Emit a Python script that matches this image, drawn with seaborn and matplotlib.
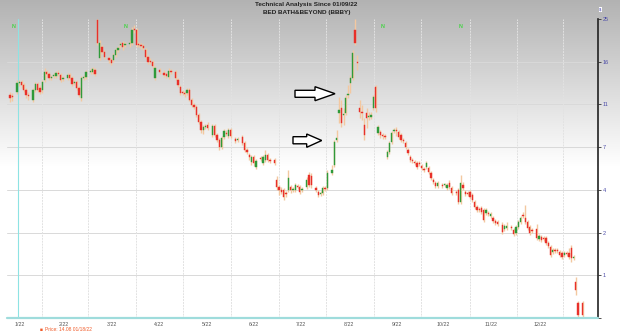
import numpy as np
import pandas as pd
import matplotlib
matplotlib.use("Agg")
import matplotlib.pyplot as plt
from matplotlib.patches import Polygon
import seaborn as sns

# ---------------- data ----------------
sessions = [0, 1, 3, 4, 5, 6, 7, 8, 10, 11, 12, 13, 14, 15, 16, 17, 18, 19, 20, 21,
            22, 23, 25, 26, 27, 28, 29, 30, 31, 32, 33, 35, 36, 37, 38, 39, 40, 41, 43, 44,
            45, 46, 47, 48, 49, 50, 52, 53, 54, 55, 56, 57, 58, 59, 60, 61, 62, 63, 65, 67,
            68, 69, 70, 72, 73, 74, 75, 76, 77, 78, 79, 80, 81, 82, 83, 84, 85, 86, 88, 89,
            90, 91, 92, 93, 94, 95, 96, 98, 99, 101, 102, 103, 104, 105, 106, 107, 109, 110, 111, 112,
            113, 115, 116, 117, 118, 119, 120, 121, 122, 123, 124, 125, 126, 127, 129, 130, 131, 133, 134, 135,
            136, 137, 138, 140, 141, 142, 143, 144, 145, 146, 147, 148, 149, 150, 151, 152, 153, 154, 155, 156,
            157, 158, 159, 160, 161, 162, 163, 164, 165, 166, 167, 168, 169, 170, 171, 172, 173, 174, 175, 176,
            177, 178, 179, 180, 181, 182, 183, 184, 185, 186, 188, 189, 190, 191, 192, 194, 195, 196, 197, 198,
            199, 200, 201, 202, 203, 204, 205, 206, 207, 208, 209, 210, 211, 212, 214, 215, 216, 218, 219, 220,
            221, 222, 223, 224, 225, 226, 227, 229, 230, 231, 232, 233, 234, 235, 236, 237, 238, 239, 240, 241,
            242, 243, 244, 245, 246, 247, 249]

opens = [12.11, 12.00, 12.46, 13.52, 13.63, 13.28, 12.70, 12.11, 11.53, 12.70, 13.40, 12.93, 12.70, 13.87, 14.81, 14.57, 14.10, 14.34, 14.34, 14.69,
         14.45, 13.99, 14.10, 14.45, 14.10, 13.52, 13.63, 12.93, 11.76, 14.10, 14.22, 14.81, 14.81, 15.04, 24.80, 16.80, 19.12, 18.07, 16.80, 16.38,
         16.38, 17.43, 18.49, 19.54, 19.96, 19.54, 19.75, 19.96, 22.91, 22.70, 19.75, 19.54, 19.33, 18.49, 17.01, 16.17, 15.97, 14.10, 15.04, 14.69,
         14.57, 14.22, 14.92, 14.81, 13.87, 13.05, 12.46, 12.35, 12.35, 12.70, 11.53, 10.95, 10.77, 10.02, 9.36, 8.61, 8.89, 9.08, 8.14, 8.99,
         8.14, 7.67, 7.02, 7.96, 8.33, 8.05, 8.61, 7.77, 7.67, 7.96, 7.39, 6.80, 6.45, 5.96, 6.31, 5.61, 6.24, 5.89, 6.10, 6.45,
         6.10, 6.10, 4.70, 4.20, 4.00, 4.00, 3.85, 4.00, 4.20, 4.00, 4.00, 4.27, 4.20, 4.00, 4.20, 5.05, 4.98, 4.13, 3.90, 3.81,
         3.85, 4.13, 4.13, 5.19, 5.75, 7.67, 10.20, 10.67, 10.02, 10.20, 12.11, 13.52, 14.10, 22.70, 15.97, 10.67, 10.30, 9.08, 10.20, 9.83,
         9.83, 10.67, 13.05, 8.33, 8.42, 8.14, 8.05, 6.31, 6.66, 7.49, 8.52, 8.61, 8.42, 8.14, 7.67, 7.39, 6.80, 6.31, 6.10, 5.96,
         5.89, 5.89, 5.68, 5.47, 5.61, 5.54, 5.19, 4.70, 4.48, 4.27, 4.34, 4.34, 4.13, 4.48, 4.13, 3.90, 4.00, 3.43, 4.34, 3.90,
         3.85, 3.90, 3.76, 3.43, 3.20, 3.11, 3.15, 3.06, 2.92, 2.92, 2.78, 2.68, 2.54, 2.50, 2.36, 2.17, 2.22, 2.27, 2.12, 1.99,
         2.27, 2.50, 2.82, 2.68, 2.50, 2.27, 2.12, 2.17, 1.85, 1.90, 1.87, 1.87, 1.76, 1.66, 1.55, 1.59, 1.59, 1.55, 1.52, 1.48,
         1.52, 1.52, 1.64, 1.41, 0.84, 0.35, 0.35]

highs = [12.46, 12.35, 13.87, 13.87, 13.87, 13.52, 12.93, 12.46, 12.93, 13.63, 13.63, 13.28, 13.87, 15.27, 15.04, 14.81, 14.45, 14.69, 14.92, 15.04,
         14.69, 14.34, 14.69, 14.69, 14.34, 13.87, 13.87, 13.17, 14.34, 14.45, 15.04, 15.27, 15.39, 15.27, 25.00, 20.60, 19.54, 18.49, 17.22, 16.80,
         17.86, 18.91, 19.33, 20.17, 20.38, 20.17, 20.60, 23.34, 23.76, 23.13, 20.17, 19.96, 19.75, 18.91, 17.43, 16.80, 16.38, 15.51, 15.27, 15.04,
         14.81, 15.27, 15.16, 15.04, 14.10, 13.28, 12.70, 12.58, 12.93, 12.93, 11.76, 11.18, 10.95, 10.20, 9.55, 9.08, 9.17, 9.36, 9.17, 9.17,
         8.33, 7.86, 8.05, 8.71, 8.61, 8.80, 8.80, 7.96, 7.96, 8.14, 7.58, 6.94, 6.59, 6.45, 6.45, 6.17, 6.38, 6.45, 6.80, 6.59,
         6.24, 6.24, 4.98, 4.34, 4.20, 4.13, 3.95, 5.40, 4.34, 4.20, 4.48, 4.41, 4.34, 4.20, 4.91, 5.26, 5.19, 4.27, 4.00, 3.95,
         4.27, 4.27, 5.40, 5.75, 7.67, 8.61, 11.88, 11.53, 10.67, 12.11, 13.28, 14.45, 18.49, 25.00, 17.43, 11.53, 10.95, 9.74, 10.67, 10.30,
         10.30, 12.11, 13.28, 9.08, 8.61, 8.33, 8.24, 6.80, 7.58, 8.52, 8.80, 8.89, 8.61, 8.33, 7.86, 7.58, 6.94, 6.45, 6.24, 6.10,
         6.03, 6.03, 5.82, 5.61, 6.03, 5.68, 5.33, 4.84, 4.63, 4.63, 4.48, 4.48, 4.48, 4.70, 4.27, 4.00, 4.13, 5.05, 4.56, 4.00,
         3.95, 4.00, 3.85, 3.53, 3.29, 3.20, 3.25, 3.15, 3.15, 3.01, 2.97, 2.78, 2.64, 2.59, 2.50, 2.40, 2.50, 2.36, 2.22, 2.36,
         2.59, 2.78, 2.97, 3.29, 2.59, 2.36, 2.22, 2.40, 1.97, 1.94, 1.92, 1.92, 1.80, 1.71, 1.64, 1.64, 1.64, 1.59, 1.57, 1.57,
         1.57, 1.64, 1.71, 1.48, 0.96, 0.40, 0.40]

lows = [11.29, 11.41, 12.23, 13.17, 12.93, 12.46, 11.76, 11.53, 11.29, 12.46, 12.46, 12.23, 12.35, 13.63, 14.22, 13.87, 13.87, 14.10, 14.10, 14.34,
        13.63, 13.75, 13.87, 13.87, 13.17, 13.28, 12.70, 11.88, 11.41, 13.87, 13.99, 14.57, 14.57, 14.34, 19.54, 16.38, 17.64, 16.59, 15.86, 15.63,
        15.97, 17.01, 18.07, 18.91, 18.49, 19.12, 19.12, 19.54, 22.07, 19.12, 19.12, 18.70, 18.49, 16.59, 15.74, 15.74, 15.27, 13.87, 14.57, 14.22,
        14.10, 13.99, 14.57, 13.87, 13.05, 12.11, 12.11, 11.88, 12.11, 11.41, 10.77, 10.58, 9.83, 9.17, 8.33, 8.24, 8.71, 8.61, 7.96, 7.96,
        7.49, 6.80, 6.87, 7.77, 8.05, 7.86, 7.86, 7.39, 7.49, 7.21, 6.66, 6.52, 6.10, 5.75, 5.68, 5.47, 6.03, 5.75, 5.96, 5.96,
        5.89, 5.75, 4.00, 3.76, 3.81, 3.53, 3.67, 3.90, 3.85, 3.90, 3.90, 4.06, 3.81, 3.90, 4.06, 4.20, 4.13, 3.90, 3.67, 3.71,
        3.76, 3.95, 4.00, 5.05, 5.61, 7.49, 9.27, 8.89, 9.08, 10.02, 11.76, 12.35, 13.87, 19.54, 15.04, 9.74, 9.55, 7.67, 8.80, 9.55,
        9.64, 10.49, 10.30, 8.14, 7.86, 7.77, 7.77, 6.17, 6.52, 7.30, 8.33, 8.05, 7.77, 7.49, 7.39, 6.87, 6.45, 5.96, 5.89, 5.75,
        5.47, 5.68, 5.40, 5.26, 5.47, 5.12, 4.70, 4.41, 4.13, 4.13, 4.13, 4.20, 4.00, 4.06, 3.76, 3.76, 3.34, 3.34, 4.00, 3.71,
        3.71, 3.57, 3.43, 3.11, 2.97, 2.97, 2.87, 2.50, 2.82, 2.78, 2.68, 2.45, 2.36, 2.31, 1.97, 2.07, 2.12, 2.12, 1.92, 1.94,
        2.17, 2.40, 2.68, 2.40, 2.12, 1.94, 1.99, 1.83, 1.80, 1.78, 1.80, 1.71, 1.64, 1.43, 1.50, 1.52, 1.52, 1.43, 1.38, 1.43,
        1.45, 1.38, 1.31, 1.36, 0.54, 0.02, 0.02]

closes = [11.76, 11.88, 13.52, 13.63, 13.28, 12.70, 12.11, 12.00, 12.70, 13.40, 12.70, 12.46, 13.63, 14.81, 14.57, 14.10, 14.22, 14.45, 14.69, 14.57,
          13.87, 14.10, 14.45, 14.10, 13.40, 13.63, 12.93, 12.11, 14.10, 14.22, 14.81, 14.92, 15.16, 14.57, 19.96, 19.96, 18.07, 17.01, 16.38, 15.86,
          17.43, 18.49, 18.91, 19.75, 19.12, 19.75, 19.96, 22.70, 22.70, 19.54, 19.54, 19.33, 18.91, 17.01, 15.97, 15.97, 15.51, 15.27, 14.81, 14.45,
          14.34, 14.92, 14.81, 14.10, 13.28, 12.35, 12.35, 12.23, 12.70, 11.53, 10.95, 10.77, 10.02, 9.36, 8.61, 8.89, 8.99, 8.80, 8.99, 8.14,
          7.67, 7.02, 7.86, 8.52, 8.24, 8.61, 8.05, 7.58, 7.77, 7.39, 6.80, 6.66, 6.31, 6.31, 5.89, 6.03, 6.17, 6.31, 6.45, 6.10,
          6.03, 5.89, 4.20, 4.00, 3.90, 3.67, 3.81, 4.84, 4.00, 4.06, 4.34, 4.20, 3.90, 4.06, 4.70, 4.34, 4.34, 4.00, 3.76, 3.85,
          4.13, 4.06, 5.19, 5.40, 7.49, 7.86, 10.49, 9.27, 10.11, 11.76, 12.23, 14.10, 17.86, 19.96, 15.86, 10.30, 10.20, 8.14, 9.74, 9.92,
          10.02, 11.88, 10.67, 8.89, 8.14, 8.05, 7.96, 6.66, 7.39, 8.33, 8.61, 8.52, 7.96, 7.67, 7.58, 7.02, 6.59, 6.10, 6.03, 5.89,
          5.61, 5.82, 5.54, 5.40, 5.89, 5.26, 4.84, 4.56, 4.27, 4.48, 4.27, 4.41, 4.34, 4.20, 3.85, 3.85, 3.43, 4.48, 4.13, 3.81,
          3.81, 3.67, 3.53, 3.20, 3.06, 3.06, 2.97, 2.59, 3.06, 2.87, 2.87, 2.54, 2.45, 2.40, 2.03, 2.31, 2.31, 2.22, 1.97, 2.27,
          2.50, 2.68, 2.78, 2.50, 2.22, 1.99, 2.07, 1.87, 1.92, 1.83, 1.85, 1.76, 1.69, 1.48, 1.59, 1.57, 1.57, 1.48, 1.43, 1.52,
          1.50, 1.43, 1.41, 1.43, 0.66, 0.07, 0.07]

price_ticks = [0, 1, 2, 4, 7, 11, 16, 25]
tick_labels = ["", "1", "2", "4", "7", "11", "16", "25"]
month_labels = ["1/22", "2/22", "3/22", "4/22", "5/22", "6/22", "7/22", "8/22", "9/22", "10/22", "11/22", "12/22"]
month_label_pos = [4.3, 23.3, 44.3, 64.6, 85.5, 106.1, 126.5, 147.4, 168.3, 188.5, 209.1, 230.4]
month_grid_pos = [13.7, 33.8, 54.6, 75.2, 96.1, 116.8, 137.6, 158.3, 178.7, 199.8, 220.3, 240.4]
start_session = 3.4
signal_sessions = [1.7, 50.4, 162.2, 195.7]

df = pd.DataFrame({"session": sessions, "open": opens, "high": highs, "low": lows, "close": closes})
df["up"] = df["close"] >= df["open"]

# ---------------- style ----------------
sns.set_theme(style="white")
plt.rcParams["font.family"] = ["Liberation Sans", "DejaVu Sans"]

W, H = 620, 332
fig = plt.figure(figsize=(W / 100, H / 100), dpi=100)

# background gradient (grey at the top fading to white)
bg = fig.add_axes([0, 0, 1, 1], zorder=-10)
rows = np.linspace(0, 1, H)
shade = np.clip(0.70 + 0.30 * (rows / 0.50), 0, 1)
shade = np.where(rows > 0.50, 1.0, shade)
grad = np.repeat(shade[:, None], 2, axis=1)
bg.imshow(np.dstack([grad, grad, grad]), aspect="auto", extent=[0, 1, 0, 1], origin="upper")
bg.set_axis_off()

left, right, top, bottom = 7, 598, 19, 318
ax = fig.add_axes([left / W, 1 - bottom / H, (right - left) / W, (bottom - top) / H])
ax.set_facecolor("none")

levels = np.arange(len(price_ticks), dtype=float)
ext_p = np.array(price_ticks + [40.0])
ext_l = np.append(levels, levels[-1] + 1.6)


def fwd(p):
    return np.interp(p, ext_p, ext_l)


def inv(l):
    return np.interp(l, ext_l, ext_p)


ax.set_yscale("function", functions=(fwd, inv))
ax.set_ylim(0, 25)
ax.set_xlim((left - 10) / 2.3, (right - 10) / 2.3)

# grid
for p in price_ticks[1:-1]:
    ax.axhline(p, color="#d9d9d9", lw=0.7, zorder=0)
for g in month_grid_pos:
    ax.axvline(g, color="#e2e2e2", lw=0.7, ls=(0, (2, 1)), zorder=0)
ax.axvline(start_session, color="#8ee3e3", lw=0.8, zorder=1)

# candles
ax.vlines(df["session"], df["low"], df["high"], color="#f3c8a0", lw=1.0, zorder=2)
body_bottom = np.minimum(df["open"], df["close"])
body_h = np.abs(df["close"] - df["open"])
colors = np.where(df["up"], "#2f9a3a", "#e8302a")
ax.bar(df["session"], body_h, bottom=body_bottom, width=0.6, color=colors,
       edgecolor=colors, linewidth=0.3, zorder=3)

# axes decoration
for s in ["top", "left", "bottom"]:
    ax.spines[s].set_visible(False)
ax.spines["right"].set_color("#222222")
ax.spines["right"].set_linewidth(1.2)
ax.axhline(0, color="#9fdcdc", lw=1.6, zorder=4, clip_on=False)

ax.yaxis.tick_right()
ax.set_yticks(price_ticks)
ax.set_yticklabels(tick_labels)
ax.tick_params(axis="y", direction="out", length=2, width=0.6, color="#333333",
               labelsize=4, labelcolor="#4b4ba8", pad=1.5, right=True)
ax.set_xticks(month_label_pos)
ax.set_xticklabels(month_labels)
ax.tick_params(axis="x", length=0, labelsize=3.8, labelcolor="#555555", pad=3)
ax.grid(False)

# arrows


def px(x, y):
    return (x / W, 1 - y / H)


arrow1 = [px(295, 90.3), px(315, 90.3), px(315, 86.7), px(335, 93.7),
          px(315, 100.7), px(315, 97.3), px(295, 97.3)]
arrow2 = [px(293, 136.7), px(306.7, 136.7), px(306.7, 134), px(321.7, 140.5),
          px(306.7, 147.3), px(306.7, 143.8), px(293, 143.8)]
for pts in (arrow1, arrow2):
    fig.patches.append(Polygon(pts, closed=True, facecolor="white", edgecolor="black",
                               lw=1.0, transform=fig.transFigure, zorder=20))

# texts
fig.text(306 / W, 1 - 4.5 / H, "Technical Analysis Since 01/09/22", ha="center", va="center",
         fontsize=4.6, fontweight="bold", color="#222222")
fig.text(307 / W, 1 - 12.5 / H, "BED BATH&BEYOND (BBBY)", ha="center", va="center",
         fontsize=4.6, fontweight="bold", color="#222222")
for s in signal_sessions:
    xf = (10 + 2.3 * s) / W
    fig.text(xf, 1 - 26 / H, "N", ha="center", va="center", fontsize=3.8,
             fontweight="bold", color="#3fd43f")
fig.text(600.5 / W, 1 - 9.5 / H, "$", ha="center", va="center", fontsize=3,
         color="#3a3ab0", bbox=dict(boxstyle="square,pad=0.15", fc="white", ec="none"))
fig.text(40 / W, 1 - 329.5 / H, "\u25a0", ha="left", va="center", fontsize=3.5, color="#f05a28")
fig.text(45.5 / W, 1 - 329.5 / H, "Price: 14.08 01/18/22", ha="left", va="center",
         fontsize=3.5, color="#f05a28")

fig.savefig("out.png", dpi=100)
